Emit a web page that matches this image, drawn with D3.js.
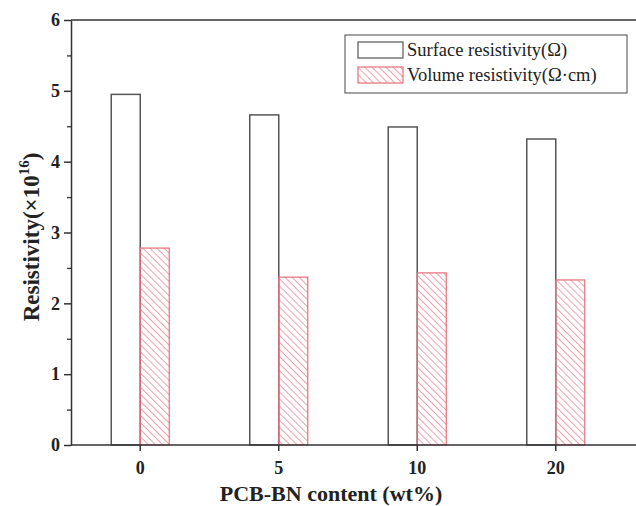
<!DOCTYPE html>
<html>
<head>
<meta charset="utf-8">
<script src="https://cdn.jsdelivr.net/npm/d3@7"></script>
<style>
  body { margin: 0; background: #fff; }
  text { font-family: "Liberation Serif", "Times New Roman", serif; }
</style>
</head>
<body>
<div id="chart"></div>
<script>
const categories = ["0", "5", "10", "20"];
const surface = [4.95, 4.66, 4.49, 4.32];
const volume = [2.78, 2.37, 2.43, 2.33];
const yTicks = [0, 1, 2, 3, 4, 5, 6];
const seriesNames = ["Surface resistivity(Ω)", "Volume resistivity(Ω·cm)"];

const width = 636, height = 506;
const margin = { top: 20, right: 11, bottom: 61, left: 71 };

const svg = d3.select("#chart").append("svg")
  .attr("width", width).attr("height", height);

// hatch pattern for volume bars
const defs = svg.append("defs");
defs.append("pattern")
  .attr("id", "hatch")
  .attr("patternUnits", "userSpaceOnUse")
  .attr("width", 5).attr("height", 5)
  .attr("patternTransform", "rotate(-45)")
  .append("line")
  .attr("x1", 0).attr("y1", 0).attr("x2", 0).attr("y2", 5)
  .attr("stroke", "#e05563").attr("stroke-width", 1.1);

const x = d3.scaleBand()
  .domain(categories)
  .range([margin.left, width - margin.right])
  .paddingInner(0).paddingOuter(0);

const y = d3.scaleLinear()
  .domain([0, 6])
  .range([height - margin.bottom, margin.top]);

const barW = 29;

const g = svg.append("g");

// surface bars (left of tick)
g.selectAll(".surf").data(categories).enter().append("rect")
  .attr("x", d => x(d) + x.bandwidth() / 2 - barW)
  .attr("y", (d, i) => y(surface[i]))
  .attr("width", barW)
  .attr("height", (d, i) => y(0) - y(surface[i]))
  .attr("fill", "#fff")
  .attr("stroke", "#555")
  .attr("stroke-width", 1.5);

// volume bars (right of tick)
g.selectAll(".vol").data(categories).enter().append("rect")
  .attr("x", d => x(d) + x.bandwidth() / 2)
  .attr("y", (d, i) => y(volume[i]))
  .attr("width", barW)
  .attr("height", (d, i) => y(0) - y(volume[i]))
  .attr("fill", "url(#hatch)")
  .attr("stroke", "#e8707a")
  .attr("stroke-width", 1.2);

// top border
svg.append("line")
  .attr("x1", margin.left).attr("x2", width)
  .attr("y1", y(6)).attr("y2", y(6))
  .attr("stroke", "#333").attr("stroke-width", 1.5);

// x axis
const xAxis = svg.append("g")
  .attr("transform", `translate(0,${y(0)})`)
  .call(d3.axisBottom(x).tickSize(6).tickSizeOuter(0));
xAxis.select(".domain").remove();
xAxis.append("line")
  .attr("x1", margin.left).attr("x2", width)
  .attr("stroke", "#333").attr("stroke-width", 1.5);
xAxis.selectAll(".tick line").attr("stroke", "#333").attr("stroke-width", 1.5);
xAxis.selectAll(".tick text")
  .attr("dy", "1.1em")
  .attr("fill", "#222")
  .style("font-family", "Liberation Serif, serif")
  .style("font-size", "18px").style("font-weight", "bold");

// y minor ticks
const yMinor = svg.append("g")
  .attr("transform", `translate(${margin.left},0)`)
  .call(d3.axisLeft(y).tickValues(d3.range(0.5, 6, 1)).tickSize(4).tickFormat(""));
yMinor.select(".domain").remove();
yMinor.selectAll(".tick line").attr("stroke", "#333").attr("stroke-width", 1.3);

// y axis
const yAxis = svg.append("g")
  .attr("transform", `translate(${margin.left},0)`)
  .call(d3.axisLeft(y).tickValues(yTicks).tickSize(7).tickSizeOuter(0).tickFormat(d3.format("d")));
yAxis.select(".domain").attr("stroke", "#333").attr("stroke-width", 1.5);
yAxis.selectAll(".tick line").attr("stroke", "#333").attr("stroke-width", 1.5);
yAxis.selectAll(".tick text")
  .attr("fill", "#222")
  .attr("dx", "-1px")
  .style("font-family", "Liberation Serif, serif")
  .style("font-size", "18px").style("font-weight", "bold");

// axis titles
svg.append("text")
  .attr("x", 331).attr("y", 501)
  .attr("text-anchor", "middle")
  .attr("fill", "#222")
  .style("font-size", "22px").style("font-weight", "bold")
  .text("PCB-BN content (wt%)");

const yt = svg.append("text")
  .attr("transform", `translate(39,237) rotate(-90)`)
  .attr("text-anchor", "middle")
  .attr("fill", "#222")
  .style("font-size", "23px").style("font-weight", "bold");
yt.append("tspan").text("Resistivity(×10");
yt.append("tspan").attr("dy", "-10").style("font-size", "15px").text("16");
yt.append("tspan").attr("dy", "10").text(")");

// legend
const lg = svg.append("g");
lg.append("rect")
  .attr("x", 345).attr("y", 35).attr("width", 282).attr("height", 58)
  .attr("fill", "#fff").attr("stroke", "#666").attr("stroke-width", 1.2);
const fills = ["#fff", "url(#hatch)"];
const strokes = ["#555", "#e8707a"];
seriesNames.forEach((name, i) => {
  lg.append("rect")
    .attr("x", 358).attr("y", 42 + i * 25).attr("width", 45).attr("height", 16)
    .attr("fill", fills[i]).attr("stroke", strokes[i]).attr("stroke-width", 1.2);
  lg.append("text")
    .attr("x", 407).attr("y", 56 + i * 25)
    .attr("fill", "#222")
    .style("font-size", "18.5px")
    .text(name);
});
</script>
</body>
</html>
